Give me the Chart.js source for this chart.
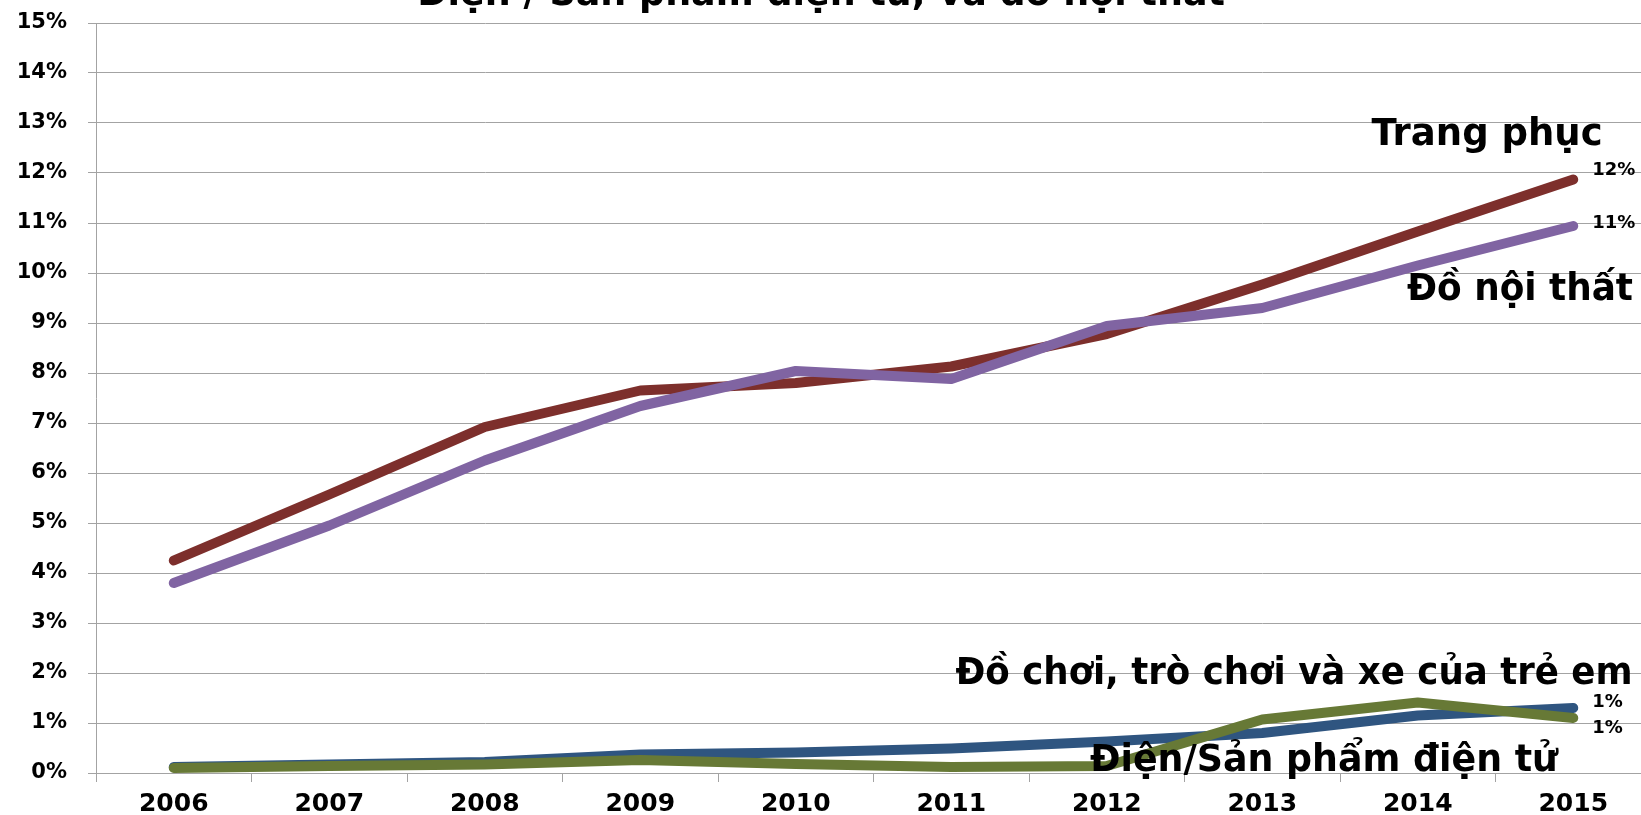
<!DOCTYPE html>
<html>
<head>
<meta charset="utf-8">
<script src="https://cdn.jsdelivr.net/npm/chart.js@4.4.1/dist/chart.umd.min.js"></script>
<style>
  html, body { margin: 0; padding: 0; background: #fff; overflow: hidden; }
  #wrap { width: 1641px; height: 815px; overflow: hidden; position: relative; }
  canvas { position: absolute; left: 0; top: 0; }
</style>
</head>
<body>
<div id="wrap"><canvas id="chart" width="1660" height="815"></canvas></div>
<script>
// values (percent)
const years = ["2006", "2007", "2008", "2009", "2010", "2011", "2012", "2013", "2014", "2015"];
const trangPhuc = [4.25, 5.57, 6.92, 7.65, 7.8, 8.13, 8.78, 9.77, 10.83, 11.87];
const doNoiThat = [3.8, 4.95, 6.25, 7.34, 8.04, 7.88, 8.94, 9.3, 10.15, 10.94];
const doChoi = [0.12, 0.17, 0.22, 0.37, 0.41, 0.49, 0.63, 0.8, 1.15, 1.3];
const dienTu = [0.1, 0.14, 0.17, 0.26, 0.18, 0.12, 0.14, 1.07, 1.41, 1.1];

const seriesNames = ["Trang phục", "Đồ nội thất", "Đồ chơi, trò chơi và xe của trẻ em", "Điện/Sản phẩm điện tử"];
const chartTitle = "Điện / Sản phẩm điện tử, và đồ nội thất";

const colors = ["#7d2f2c", "#8064a2", "#2f5580", "#677936"];
const gridColor = "#a3a3a3";

// where the series names sit (canvas px, centre x / baseline) and their widths
const namePos = [[1487, 145], [1520, 300], [1294, 684], [1324, 771]];
const nameWidth = [238, 226, 677, 468];
// vertical shift of the end value labels from the last point
const endShift = [-9, -3, -6, 10];

const labelPlugin = {
  id: "seriesLabels",
  afterDatasetsDraw(chart) {
    const ctx = chart.ctx;
    ctx.save();
    ctx.fillStyle = "#000";

    ctx.font = 'bold 37px "DejaVu Sans"';
    ctx.textAlign = "center";
    ctx.textBaseline = "alphabetic";
    ctx.fillText(chartTitle, 821, 5, 808);

    seriesNames.forEach((name, i) => ctx.fillText(name, namePos[i][0], namePos[i][1], nameWidth[i]));

    ctx.font = 'bold 18px "DejaVu Sans"';
    ctx.textAlign = "left";
    ctx.textBaseline = "middle";
    chart.data.datasets.forEach((ds, i) => {
      const meta = chart.getDatasetMeta(i);
      const pt = meta.data[meta.data.length - 1];
      const last = ds.data[ds.data.length - 1];
      ctx.fillText(Math.round(last) + "%", pt.x + 19, pt.y + endShift[i]);
    });
    ctx.restore();
  },
};

function line(label, data, color, order) {
  return {
    label,
    data,
    borderColor: color,
    backgroundColor: color,
    borderWidth: 10,
    borderCapStyle: "round",
    borderJoinStyle: "round",
    pointRadius: 0,
    tension: 0,
    order,
  };
}

new Chart(document.getElementById("chart"), {
  type: "line",
  data: {
    labels: years,
    datasets: [
      line(seriesNames[0], trangPhuc, colors[0], 2),
      line(seriesNames[1], doNoiThat, colors[1], 1),
      line(seriesNames[2], doChoi, colors[2], 4),
      line(seriesNames[3], dienTu, colors[3], 3),
    ],
  },
  options: {
    responsive: false,
    animation: false,
    layout: { padding: { top: 23, right: 9, left: 0, bottom: 0 } },
    plugins: {
      legend: { display: false },
      title: { display: false },
      tooltip: { enabled: false },
    },
    scales: {
      x: {
        offset: true,
        grid: { offset: true, drawOnChartArea: false, color: gridColor, tickLength: 9, tickColor: gridColor },
        border: { color: gridColor, width: 1 },
        ticks: { color: "#000", font: { family: "DejaVu Sans", size: 25, weight: "bold" }, padding: 7, maxRotation: 0 },
        afterFit: (s) => { s.height = 42; },
      },
      y: {
        min: 0,
        max: 15,
        grid: { color: gridColor, tickLength: 8, tickColor: gridColor },
        border: { color: gridColor, width: 1 },
        ticks: {
          stepSize: 1,
          color: "#000",
          font: { family: "DejaVu Sans", size: 21, weight: "bold" },
          padding: 21,
          callback: (v) => v + "%",
        },
        afterFit: (s) => {
          s.width = 96;
          s.paddingTop = 0;
          s.paddingBottom = 0;
        },
      },
    },
  },
  plugins: [labelPlugin],
});
</script>
</body>
</html>
